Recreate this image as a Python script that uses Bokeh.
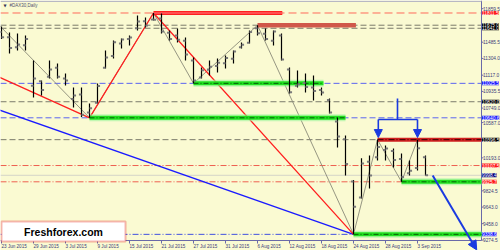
import pandas as pd
from bokeh.plotting import figure
from bokeh.models import Range1d, Label, BoxAnnotation, Arrow, NormalHead
from bokeh.embed import file_html
from bokeh.resources import INLINE

# ---------------- data ----------------
dates = pd.bdate_range("2015-06-23", "2015-09-04")
idx = list(range(len(dates)))

opens = [11600, 11540, 11430, 11450, 11000, 11050, 11100, 11200, 11080, 10850,
         10900, 10700, 10810, 11200, 11330, 11470, 11520, 11640, 11720, 11740,
         11750, 11590, 11560, 11500, 11280, 11090, 11180, 11220, 11250, 11300,
         11430, 11480, 11640, 11580, 11500, 11560, 11180, 11000, 11030, 10980,
         10950, 10840, 10600, 10400, 9930, 9750, 10150, 10200, 10280, 10270,
         10180, 10020, 10080, 10200]
highs = [11660, 11594, 11583, 11560, 11281, 11057, 11281, 11247, 11136, 10979,
         10979, 10801, 11024, 11393, 11504, 11527, 11560, 11784, 11761, 11811.5,
         11805, 11616, 11638, 11538, 11314, 11203, 11281, 11303, 11337, 11393,
         11482, 11616, 11675, 11638, 11616, 11583, 11203, 11169, 11136, 11113,
         10979, 10856, 10644, 10443, 9945, 10190, 10220, 10396.5, 10331, 10298,
         10242, 10164, 10396.5, 10220]
lows = [11520, 11360, 11393, 11393, 10868, 10890, 11080, 11080, 11002, 10756,
        10650, 10640.6, 10801, 11192, 11303, 11415, 11448, 11616, 11650, 11728,
        11583, 11504, 11482, 11281, 11025.5, 11080, 11113, 11147, 11192, 11247,
        11415, 11471, 11560, 11504, 11448, 11281, 10912, 10979, 10923, 10834,
        10890, 10689, 10309, 9996, 9338.6, 9740, 9851, 10164, 10164, 10086,
        9925.7, 9996, 10052, 9996]
closes = [11540, 11420, 11460, 11520, 11080, 10950, 11180, 11100, 11058, 10890,
          10676, 10747, 10996, 11315, 11484, 11516, 11539, 11716, 11673, 11735,
          11604, 11520, 11512, 11347, 11056, 11173, 11212, 11257, 11308, 11380,
          11456, 11600, 11585, 11520, 11604, 11293, 10925, 11015, 10985, 10940,
          10922, 10700, 10432, 10124, 9648, 10130, 9997, 10315, 10298, 10170,
          9980, 10048, 10300, 9998.4]

date_ticks = idx[::4]
date_labels = [f"{d.day} {d.strftime('%b')} {d.year}" for d in dates[::4]]

price_ticks = [11859.5, 11485.5, 11304.0, 11117.0, 10935.5, 10749.0, 10587.0,
               10193.0, 9824.5, 9643.0, 9458.0, 9274.5]

gray_levels = [11675.0, 11641.0, 10820.0, 10396.5]
blue_levels = [11025.5, 10640.6]
red_dash_levels = [11811.5]
red_dashdot_levels = [10107.5, 9925.7]
blue_dashdot_levels = [9338.6]
bid_level = 9998.4

# zigzag pivots (index, price)
red_zz_x = [-20, 11, 19, 44]
red_zz_y = [11889, 10640.6, 11811.5, 9338.6]
gray_zz_x = [-1, 11, 19, 24, 32, 44, 47, 50, 52]
gray_zz_y = [11740, 10640.6, 11811.5, 11025.5, 11675, 9338.6, 10396.5, 9925.7, 10396.5]
blue_tl_x = [-40, 44]
blue_tl_y = [11973, 9338.6]

# highlighted levels: start, end, price
green_x0 = [24, 11, 50, 44]
green_x1 = [40.25, 43, 60, 60]
green_y = [11025.5, 10640.6, 9925.7, 9338.6]
red_hl = (19, 35.1, 11811.5)
brown_hl = (32, 44.3, 11675.0)
dark_hl = (47, 60, 10396.5)

# price tags on the axis
tag_vals = [11811.5, 11675.0, 11641.0, 11025.5, 10820.0, 10640.6, 10396.5,
            10107.5, 9998.4, 9925.7, 9338.6]
tag_cols = ["#ff1a1a", "#000000", "#000000", "#1a1aff", "#000000", "#1a1aff",
            "#000000", "#ff1a1a", "#000080", "#ff1a1a", "#1a1aff"]

# double-top annotation and forecast arrow
bracket_x = [47.1, 49.5, 52.0]
bracket_top = 10856
bracket_y = 10622
bracket_tip = 10420
forecast_x = [53.9, 59.4]
forecast_y = [9996, 9165]

# ---------------- scales ----------------
X0, XAX = -0.125, 60.0           # chart left edge and price-axis position (bar index)
YTOP, YAX = 11951.0, 9270.0       # chart top and time-axis position (price)
px_x = 481 / (XAX - X0)
px_y = 240 / (YTOP - YAX)
x_end = X0 + 500 / px_x
y_start = YTOP - 250 / px_y

BG = "#FAFAD2"
AXC = "#6a6aa8"
TXT = "#3a3a7a"
FONT = "Liberation Sans"

p = figure(width=500, height=250, x_range=Range1d(X0, x_end),
           y_range=Range1d(y_start, YTOP), output_backend="svg",
           toolbar_location=None, x_axis_location=None, y_axis_location=None,
           min_border=0, background_fill_color=BG, border_fill_color=BG,
           outline_line_color=None)
p.xgrid.visible = False
p.ygrid.visible = False

def hlines(levels, color, dash, width=1):
    p.segment(x0=[X0] * len(levels), y0=levels, x1=[XAX] * len(levels), y1=levels,
              line_color=color, line_dash=dash, line_width=width)

hlines(gray_levels, "#7a7a6a", "6 3")
hlines(blue_levels, "#5a64f0", "6 3")
hlines(red_dash_levels, "#ff6a5a", "8 4")
hlines(red_dashdot_levels, "#ee6050", "6 2 1 2")
hlines(blue_dashdot_levels, "#4050e0", "6 2 1 2")
hlines([bid_level], "#d4d4c8", "solid")

# axes lines and ticks
p.segment(x0=[XAX], y0=[YAX], x1=[XAX], y1=[YTOP], line_color=AXC, line_width=1)
p.segment(x0=[X0], y0=[YAX], x1=[XAX], y1=[YAX], line_color=AXC, line_width=1)
p.segment(x0=[X0], y0=[YTOP - 0.8 / px_y], x1=[XAX], y1=[YTOP - 0.8 / px_y],
          line_color="#a8a8c0", line_width=1)
p.segment(x0=[XAX] * len(price_ticks), y0=price_ticks,
          x1=[XAX + 2 / px_x] * len(price_ticks), y1=price_ticks, line_color=AXC)
p.segment(x0=date_ticks, y0=[YAX] * len(date_ticks), x1=date_ticks,
          y1=[YAX - 3 / px_y] * len(date_ticks), line_color=AXC)

# trend / zigzag lines
p.line(blue_tl_x, blue_tl_y, line_color="#1a1aff", line_width=1.3)
p.line(gray_zz_x, gray_zz_y, line_color="#8a8a78", line_width=0.9)
p.line(red_zz_x, red_zz_y, line_color="#ff2020", line_width=1.3)

# highlighted levels
p.segment(x0=green_x0, y0=green_y, x1=green_x1, y1=green_y, line_color="#9cf59c",
          line_width=7, line_alpha=0.6)
p.segment(x0=green_x0, y0=green_y, x1=green_x1, y1=green_y, line_color="#1fe01f",
          line_width=4)
p.segment(x0=green_x0, y0=green_y, x1=green_x1, y1=green_y, line_color="#0a5a0a",
          line_width=1, line_dash="5 2 1 2")
p.segment(x0=[red_hl[0]], y0=[red_hl[2]], x1=[red_hl[1]], y1=[red_hl[2]],
          line_color="#ff2020", line_width=4)
p.segment(x0=[red_hl[0]], y0=[red_hl[2]], x1=[red_hl[1]], y1=[red_hl[2]],
          line_color="#ff8080", line_width=1.2)
p.segment(x0=[brown_hl[0]], y0=[brown_hl[2]], x1=[brown_hl[1]], y1=[brown_hl[2]],
          line_color="#d0584a", line_width=4.5)
p.segment(x0=[dark_hl[0]], y0=[dark_hl[2]], x1=[dark_hl[1]], y1=[dark_hl[2]],
          line_color="#d02020", line_width=4)
p.segment(x0=[dark_hl[0]], y0=[dark_hl[2]], x1=[dark_hl[1]], y1=[dark_hl[2]],
          line_color="#3a0000", line_width=1, line_dash="6 2 1 2")

# OHLC bars
p.segment(x0=idx, y0=lows, x1=idx, y1=highs, line_color="#000000", line_width=1.2)
p.segment(x0=[i - 0.32 for i in idx], y0=opens, x1=idx, y1=opens,
          line_color="#7a7a7a", line_width=2)
p.segment(x0=idx, y0=closes, x1=[i + 0.32 for i in idx], y1=closes,
          line_color="#7a7a7a", line_width=2)

# double-top bracket
BLUE = "#1a3ae0"
p.segment(x0=[bracket_x[1]], y0=[bracket_top], x1=[bracket_x[1]], y1=[bracket_y],
          line_color=BLUE, line_width=1.6)
p.segment(x0=[bracket_x[0]], y0=[bracket_y], x1=[bracket_x[2]], y1=[bracket_y],
          line_color=BLUE, line_width=1.6)
for bx in (bracket_x[0], bracket_x[2]):
    p.add_layout(Arrow(x_start=bx, y_start=bracket_y, x_end=bx, y_end=bracket_tip,
                       line_color=BLUE, line_width=1.6,
                       end=NormalHead(size=8, fill_color=BLUE, line_color=BLUE)))

# forecast arrow
p.add_layout(Arrow(x_start=forecast_x[0], y_start=forecast_y[0], x_end=forecast_x[1],
                   y_end=forecast_y[1], line_color=BLUE, line_width=2,
                   end=NormalHead(size=9, fill_color=BLUE, line_color=BLUE)))

# axis texts
for v in price_ticks:
    p.add_layout(Label(x=482.5, x_units="screen", y=v, text=f"{v:.1f}",
                       text_font=FONT, text_font_size="4.8px", text_color=TXT,
                       text_baseline="middle", text_align="left"))
for v, c in zip(tag_vals, tag_cols):
    p.add_layout(Label(x=481.5, x_units="screen", y=v, text=f"{v:.1f}",
                       text_font=FONT, text_font_size="4.8px", text_color="white",
                       text_baseline="middle", text_align="left",
                       background_fill_color=c))
for t, lab in zip(date_ticks, date_labels):
    p.add_layout(Label(x=t, y=7, y_units="screen", text=lab, text_font=FONT,
                       text_font_size="4.6px", text_color=TXT,
                       text_baseline="top", text_align="left"))

# title
p.add_layout(Label(x=3, y=245, x_units="screen", y_units="screen", text="▼",
                   text_font="DejaVu Sans", text_font_size="4px", text_color="#333355",
                   text_baseline="middle"))
p.add_layout(Label(x=9, y=245, x_units="screen", y_units="screen", text="#DAX30,Daily",
                   text_font=FONT, text_font_size="4.5px", text_color="#505070",
                   text_baseline="middle"))

# brand box
p.add_layout(BoxAnnotation(left=1, right=125, top=29, bottom=9, left_units="screen",
                           right_units="screen", top_units="screen", bottom_units="screen",
                           fill_color="white", fill_alpha=1, line_color="#e01010",
                           line_width=2))
p.add_layout(Label(x=63, y=19, x_units="screen", y_units="screen", text="Freshforex.com",
                   text_font=FONT, text_font_style="bold", text_font_size="10.5px",
                   text_color="#000000", text_align="center", text_baseline="middle"))

open("out.html", "w").write(file_html(p, INLINE))
